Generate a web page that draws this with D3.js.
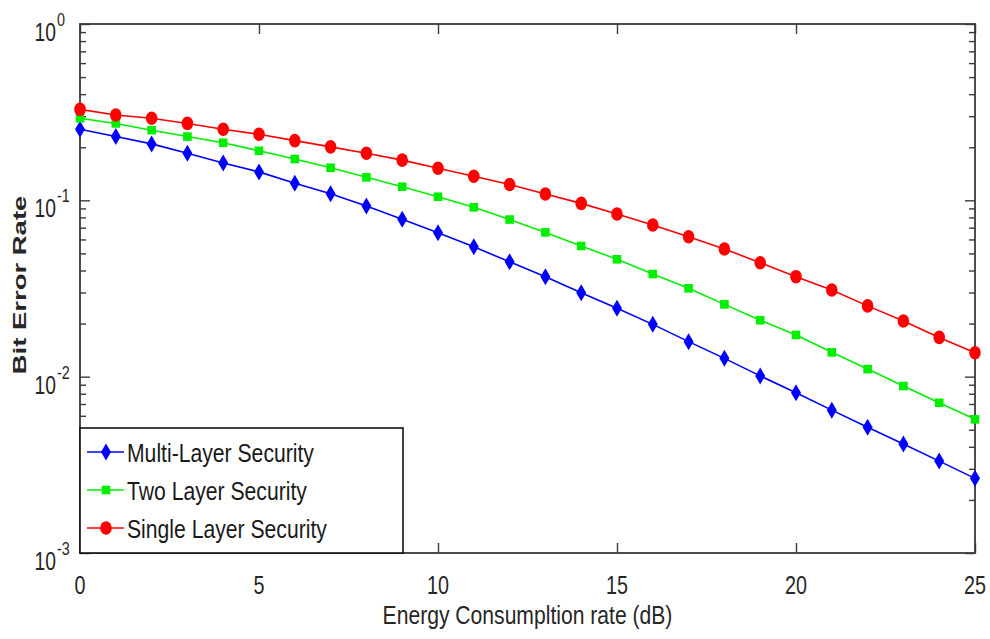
<!DOCTYPE html>
<html>
<head>
<meta charset="utf-8">
<script src="https://cdnjs.cloudflare.com/ajax/libs/d3/7.8.5/d3.min.js"></script>
<style>
  body { margin: 0; background: #fff; }
  text { font-family: "Liberation Sans", Arial, sans-serif; fill: #262626; }
</style>
</head>
<body>
<div id="chart"></div>
<script>
// values
var energy = d3.range(0, 26);
var multiLayer = [0.253, 0.230, 0.209, 0.185, 0.163, 0.145, 0.125, 0.109, 0.0928, 0.0780,
  0.0655, 0.0545, 0.0448, 0.0369, 0.0299, 0.0244, 0.0198, 0.0158, 0.0127, 0.0101,
  0.0081, 0.00646, 0.00516, 0.00415, 0.00332, 0.00265];
var twoLayer = [0.292, 0.273, 0.250, 0.230, 0.212, 0.191, 0.1715, 0.153, 0.135, 0.1195,
  0.1048, 0.0913, 0.0778, 0.0658, 0.0551, 0.0463, 0.0382, 0.0317, 0.0257, 0.0209,
  0.01724, 0.01374, 0.01104, 0.00885, 0.00711, 0.00573];
var singleLayer = [0.328, 0.305, 0.292, 0.273, 0.253, 0.237, 0.218, 0.201, 0.185, 0.169,
  0.152, 0.137, 0.123, 0.1086, 0.0961, 0.0836, 0.0724, 0.0622, 0.0530, 0.0443,
  0.0369, 0.0310, 0.0252, 0.0207, 0.0167, 0.01366];
var seriesNames = ["Multi-Layer Security", "Two Layer Security", "Single Layer Security"];
var seriesColors = ["#0000ff", "#00ee00", "#ff0000"];
var seriesMarkers = ["diamond", "square", "circle"];
var xTicks = [0, 5, 10, 15, 20, 25];
var yDecades = [1e-3, 1e-2, 1e-1, 1e0];
var yExponents = ["-3", "-2", "-1", "0"];

var width = 990, height = 639;
var margin = { left: 80, right: 15, top: 24, bottom: 86 };
var plotW = width - margin.left - margin.right;
var plotH = height - margin.top - margin.bottom;

var svg = d3.select("#chart").append("svg")
  .attr("width", width).attr("height", height);

var x = d3.scaleLinear().domain([0, 25]).range([0, plotW]);
var y = d3.scaleLog().domain([1e-3, 1]).range([plotH, 0]);

var g = svg.append("g").attr("transform", "translate(" + margin.left + "," + margin.top + ")");

// condensed text, the original picture is squeezed sideways
function label(parent, px, py, str, size, sx, anchor) {
  return parent.append("text")
    .attr("transform", "translate(" + px + "," + py + ") scale(" + sx + ",1)")
    .attr("text-anchor", anchor)
    .style("font-size", size + "px")
    .text(str);
}

// minor log ticks
var minor = [];
[1e-3, 1e-2, 1e-1].forEach(function (d) {
  for (var k = 2; k <= 9; k++) minor.push(d * k);
});

g.append("g").attr("transform", "translate(0," + plotH + ")")
  .call(d3.axisBottom(x).tickValues(xTicks).tickSizeInner(-10).tickSizeOuter(0).tickFormat(""));
g.append("g")
  .call(d3.axisTop(x).tickValues(xTicks).tickSizeInner(-10).tickSizeOuter(0).tickFormat(""));
g.append("g")
  .call(d3.axisLeft(y).tickValues(yDecades).tickSizeInner(-10).tickSizeOuter(0).tickFormat(""));
g.append("g")
  .call(d3.axisLeft(y).tickValues(minor).tickSizeInner(-6).tickSizeOuter(0).tickFormat(""));
g.append("g").attr("transform", "translate(" + plotW + ",0)")
  .call(d3.axisRight(y).tickValues(yDecades).tickSizeInner(-10).tickSizeOuter(0).tickFormat(""));
g.append("g").attr("transform", "translate(" + plotW + ",0)")
  .call(d3.axisRight(y).tickValues(minor).tickSizeInner(-6).tickSizeOuter(0).tickFormat(""));

g.selectAll(".domain").remove();
g.selectAll(".tick line").attr("stroke", "#3a3a3a").attr("stroke-width", 1.4);

// x tick labels
xTicks.forEach(function (t) {
  label(g, x(t), plotH + 41, String(t), 25, 0.79, "middle");
});

// y decade labels with superscripts
yDecades.forEach(function (d, i) {
  label(g, -24, y(d) + 17, "10", 25, 0.77, "end");
  label(g, -23, y(d) + 2, yExponents[i], 18, 0.8, "start");
});

// frame
g.append("rect")
  .attr("width", plotW).attr("height", plotH)
  .attr("fill", "none").attr("stroke", "#3a3a3a").attr("stroke-width", 1.8);

function marker(sel, type, color) {
  if (type === "diamond") {
    sel.append("path").attr("d", "M0,-8.5L5,0L0,8.5L-5,0Z").attr("fill", color);
  } else if (type === "square") {
    sel.append("rect").attr("x", -4.3).attr("y", -4.3).attr("width", 8.6).attr("height", 8.6).attr("fill", color);
  } else {
    sel.append("ellipse").attr("rx", 5.8).attr("ry", 6.8).attr("fill", color);
  }
}

var allSeries = [multiLayer, twoLayer, singleLayer];
var line = d3.line().x(function (d, i) { return x(energy[i]); }).y(function (d) { return y(d); });

allSeries.forEach(function (vals, s) {
  g.append("path").datum(vals)
    .attr("d", line).attr("fill", "none")
    .attr("stroke", seriesColors[s]).attr("stroke-width", 1.6);
  g.selectAll(".m" + s).data(vals).enter().append("g")
    .attr("class", "m" + s)
    .attr("transform", function (d, i) { return "translate(" + x(energy[i]) + "," + y(d) + ")"; })
    .each(function () { marker(d3.select(this), seriesMarkers[s], seriesColors[s]); });
});

// legend
var lg = g.append("g").attr("transform", "translate(0," + (plotH - 125) + ")");
lg.append("rect").attr("width", 323).attr("height", 125)
  .attr("fill", "#fff").attr("stroke", "#111").attr("stroke-width", 1.6);
seriesNames.forEach(function (name, s) {
  var row = lg.append("g").attr("transform", "translate(0," + (24 + s * 38) + ")");
  row.append("line").attr("x1", 7).attr("x2", 44).attr("stroke", seriesColors[s]).attr("stroke-width", 1.6);
  var m = row.append("g").attr("transform", "translate(26,0)");
  marker(m, seriesMarkers[s], seriesColors[s]);
  label(row, 47, 9.5, name, 25.5, 0.83, "start").style("fill", "#1a1a1a");
});

// axis titles
label(svg, margin.left + x(12.5), 624, "Energy Consumpltion rate (dB)", 25, 0.845, "middle");
svg.append("text")
  .attr("transform", "translate(25.5,285) rotate(-90) scale(1,0.7)")
  .attr("text-anchor", "middle").style("font-size", "27.5px").style("font-weight", "bold")
  .text("Bit Error Rate");
</script>
</body>
</html>
